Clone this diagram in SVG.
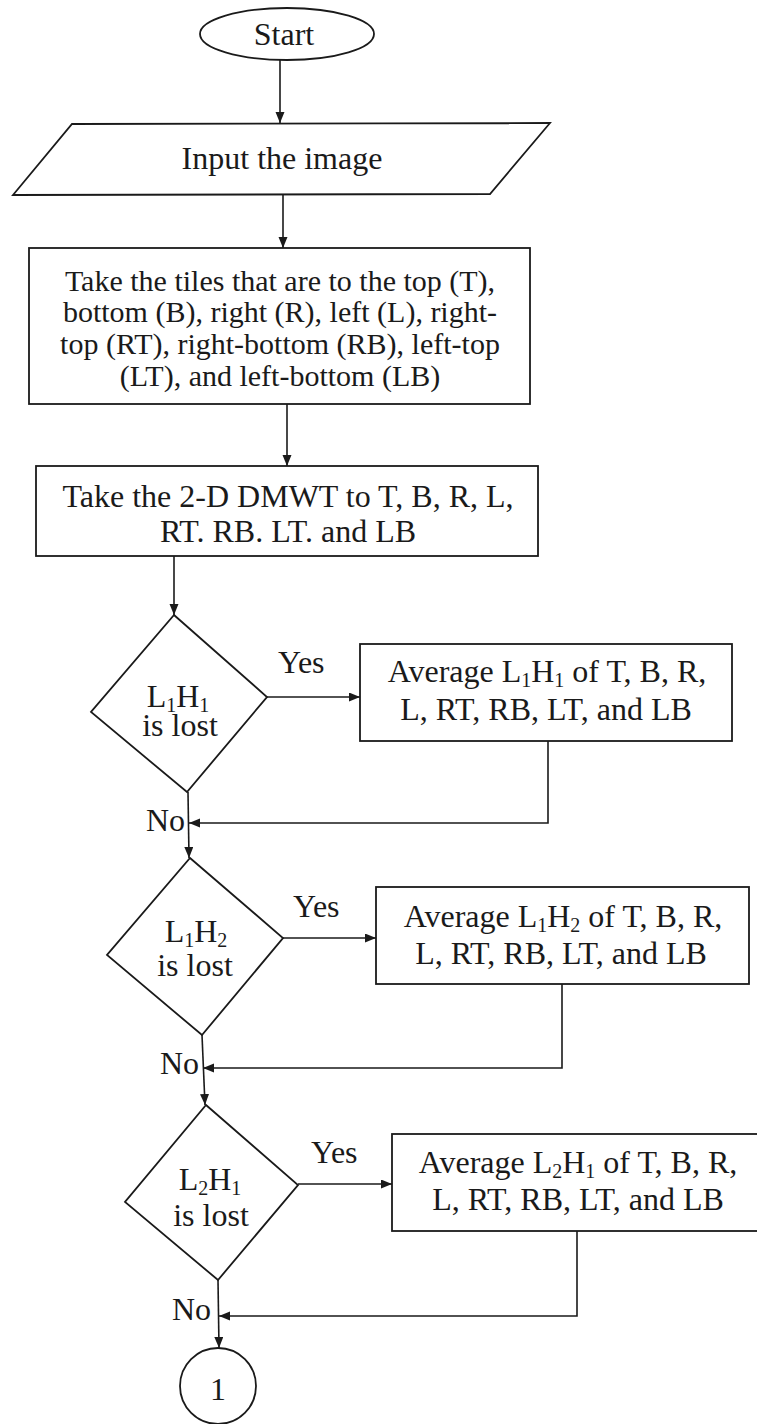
<svg xmlns="http://www.w3.org/2000/svg" width="757" height="1424" viewBox="0 0 757 1424">
<style>
.s{fill:#fff;stroke:#1a1a1a;stroke-width:1.8}
.c{fill:none;stroke:#1a1a1a;stroke-width:1.6}
text{font-family:"Liberation Serif","Times New Roman",serif;fill:#1a1a1a;font-size:32px}
.m{text-anchor:middle}
.b1{font-size:30px}
.sub{font-size:20px}
</style>
<defs>
<marker id="ah" markerUnits="userSpaceOnUse" markerWidth="12" markerHeight="10" refX="11" refY="4.5" orient="auto">
<path d="M0,0 L11,4.5 L0,9 z" fill="#1a1a1a"/>
</marker>
</defs>
<rect width="757" height="1424" fill="#fff"/>
<g id="connectors">
<line class="c" x1="280" y1="60" x2="280" y2="123" marker-end="url(#ah)"/>
<line class="c" x1="283" y1="195" x2="283" y2="248" marker-end="url(#ah)"/>
<line class="c" x1="287" y1="404" x2="287" y2="466" marker-end="url(#ah)"/>
<line class="c" x1="174" y1="556" x2="174" y2="615" marker-end="url(#ah)"/>
<line class="c" x1="267" y1="697" x2="360" y2="697" marker-end="url(#ah)"/>
<polyline class="c" points="548,741 548,823 189,823" marker-end="url(#ah)"/>
<line class="c" x1="188" y1="792" x2="189" y2="858" marker-end="url(#ah)"/>
<line class="c" x1="283" y1="938" x2="376" y2="938" marker-end="url(#ah)"/>
<polyline class="c" points="562,984 562,1068 203,1068" marker-end="url(#ah)"/>
<line class="c" x1="202" y1="1035" x2="205" y2="1105" marker-end="url(#ah)"/>
<line class="c" x1="298" y1="1184" x2="392" y2="1184" marker-end="url(#ah)"/>
<polyline class="c" points="577,1231 577,1316 219,1316" marker-end="url(#ah)"/>
<line class="c" x1="218" y1="1280" x2="219" y2="1348" marker-end="url(#ah)"/>
<text x="146" y="831">No</text>
<text x="278" y="673">Yes</text>
<text x="160" y="1074">No</text>
<text x="293" y="917">Yes</text>
<text x="172" y="1320">No</text>
<text x="311" y="1163">Yes</text>
</g>
<g id="start">
<ellipse class="s" cx="287" cy="34" rx="87" ry="26"/>
<text class="m" x="284" y="45">Start</text>
</g>
<g id="input">
<polygon class="s" points="72,124 550,123 490,194 13,195"/>
<text class="m" x="282" y="169">Input the image</text>
</g>
<g id="tiles">
<rect class="s" x="29" y="248" width="501" height="156"/>
<text class="m b1" x="280" y="291">Take the tiles that are to the top (T),</text>
<text class="m b1" x="280" y="322">bottom (B), right (R), left (L), right-</text>
<text class="m b1" x="280" y="354">top (RT), right-bottom (RB), left-top</text>
<text class="m b1" x="280" y="386">(LT), and left-bottom (LB)</text>
</g>
<g id="dmwt">
<rect class="s" x="36" y="466" width="502" height="90"/>
<text class="m" x="288" y="507">Take the 2-D DMWT to T, B, R, L,</text>
<text class="m" x="288" y="542">RT. RB. LT. and LB</text>
</g>
<g id="d1">
<polygon class="s" points="174,615 267,697 187,792 91,712"/>
<text class="m" x="178" y="707">L<tspan class="sub" dy="5">1</tspan><tspan dy="-5">H</tspan><tspan class="sub" dy="5">1</tspan></text>
<text class="m" x="180" y="736">is lost</text>
</g>
<g id="avg1">
<rect class="s" x="360" y="644" width="372" height="97"/>
<text class="m" x="547" y="682">Average L<tspan class="sub" dy="5">1</tspan><tspan dy="-5">H</tspan><tspan class="sub" dy="5">1</tspan><tspan dy="-5"> of T, B, R,</tspan></text>
<text class="m" x="546" y="720">L, RT, RB, LT, and LB</text>
</g>
<g id="d2">
<polygon class="s" points="190,858 283,938 202,1035 107,955"/>
<text class="m" x="196" y="942">L<tspan class="sub" dy="5">1</tspan><tspan dy="-5">H</tspan><tspan class="sub" dy="5">2</tspan></text>
<text class="m" x="195" y="976">is lost</text>
</g>
<g id="avg2">
<rect class="s" x="376" y="887" width="373" height="97"/>
<text class="m" x="563" y="927">Average L<tspan class="sub" dy="5">1</tspan><tspan dy="-5">H</tspan><tspan class="sub" dy="5">2</tspan><tspan dy="-5"> of T, B, R,</tspan></text>
<text class="m" x="561" y="964">L, RT, RB, LT, and LB</text>
</g>
<g id="d3">
<polygon class="s" points="206,1105 298,1185 218,1280 125,1202"/>
<text class="m" x="210" y="1190">L<tspan class="sub" dy="5">2</tspan><tspan dy="-5">H</tspan><tspan class="sub" dy="5">1</tspan></text>
<text class="m" x="211" y="1226">is lost</text>
</g>
<g id="avg3">
<rect class="s" x="392" y="1134" width="367" height="97"/>
<text class="m" x="578" y="1173">Average L<tspan class="sub" dy="5">2</tspan><tspan dy="-5">H</tspan><tspan class="sub" dy="5">1</tspan><tspan dy="-5"> of T, B, R,</tspan></text>
<text class="m" x="578" y="1210">L, RT, RB, LT, and LB</text>
</g>
<g id="connector1">
<circle class="s" cx="218" cy="1386" r="38"/>
<text class="m" x="218" y="1400">1</text>
</g>
</svg>
